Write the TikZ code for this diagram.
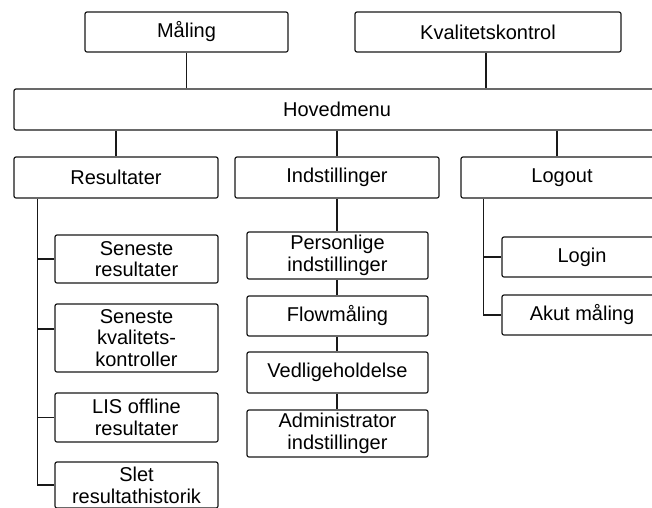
\documentclass[tikz,border=0pt]{standalone}
\usepackage{fontspec}
\setmainfont{Liberation Sans}
\begin{document}
\begin{tikzpicture}[x=1pt,y=-1pt,
  box/.style={draw=black!90, line width=1.2pt, rounded corners=2pt, inner sep=0pt,
    align=center, font=\fontsize{20}{21.7}\selectfont},
  link/.style={draw=black!90, line width=1.2pt}]
\useasboundingbox (0,0) rectangle (652,507);
\clip (0,0) rectangle (652,507);
% top row
\node[box, minimum width=203pt, minimum height=40pt] (mal) at (186.5,32) {Måling};
\node[box, minimum width=266pt, minimum height=40pt] (kval) at (488,32) {Kvalitetskontrol};
\node[box, minimum width=646pt, minimum height=41pt] (hoved) at (337,109.5) {Hovedmenu};
% second row
\node[box, minimum width=204pt, minimum height=41pt] (res) at (116,177.5) {Resultater};
\node[box, minimum width=204pt, minimum height=41pt] (ind) at (337,177.5) {Indstillinger};
\node[box, minimum width=202pt, minimum height=41pt] (log) at (562,177.5) {Logout};
% Resultater children
\node[box, minimum width=163pt, minimum height=48pt] (sr) at (136.5,259) {Seneste\\resultater};
\node[box, minimum width=163pt, minimum height=68pt] (sk) at (136.5,338) {Seneste\\kvalitets-\\kontroller};
\node[box, minimum width=163pt, minimum height=49pt] (lis) at (136.5,417.5) {LIS offline\\resultater};
\node[box, minimum width=163pt, minimum height=46pt] (slet) at (136.5,485) {Slet\\resultathistorik};
% Indstillinger children
\node[box, minimum width=181pt, minimum height=47pt] (pers) at (337.5,255.5) {Personlige\\indstillinger};
\node[box, minimum width=181pt, minimum height=40pt] (flow) at (337.5,316) {Flowmåling};
\node[box, minimum width=181pt, minimum height=41pt] (ved) at (337.5,372.5) {Vedligeholdelse};
\node[box, minimum width=181pt, minimum height=47pt] (adm) at (337.5,433.5) {Administrator\\indstillinger};
% Logout children
\node[box, minimum width=160pt, minimum height=40pt] (login) at (582,257) {Login};
\node[box, minimum width=160pt, minimum height=40pt] (akut) at (582,315) {Akut måling};
% connectors top
\draw[link] (mal.south) -- (mal.south |- hoved.north);
\draw[link] ([xshift=-2pt]kval.south) -- ([xshift=-2pt]kval.south |- hoved.north);
\draw[link] (res.north) -- (res.north |- hoved.south);
\draw[link] (ind.north) -- (ind.north |- hoved.south);
\draw[link] ([xshift=-5pt]log.north) -- ([xshift=-5pt]log.north |- hoved.south);
% Resultater trunk
\coordinate (rt) at ([xshift=24pt]res.south west);
\coordinate (skw) at ([yshift=9pt]sk.west);
\draw[link] (rt) |- (slet.west);
\draw[link] (rt |- sr.west) -- (sr.west);
\draw[link] (rt |- skw) -- (skw);
\draw[link] (rt |- lis.west) -- (lis.west);
% Indstillinger chain
\draw[link] (ind.south) -- (ind.south |- pers.north);
\draw[link] (ind.south |- pers.south) -- (ind.south |- flow.north);
\draw[link] (ind.south |- flow.south) -- (ind.south |- ved.north);
\draw[link] (ind.south |- ved.south) -- (ind.south |- adm.north);
% Logout trunk
\coordinate (lt) at ([xshift=23pt]log.south west);
\draw[link] (lt) |- (akut.west);
\draw[link] (lt |- login.west) -- (login.west);
\end{tikzpicture}
\end{document}
